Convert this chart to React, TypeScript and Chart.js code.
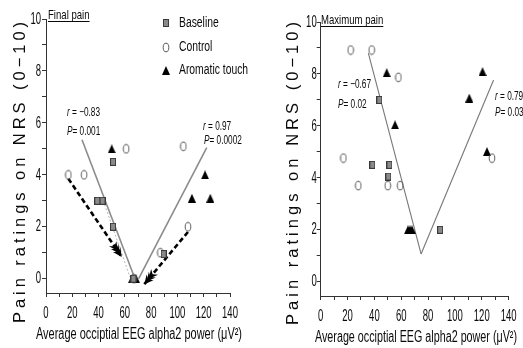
import React, { useEffect, useRef } from 'react';
import { Chart, registerables } from 'chart.js';

Chart.register(...registerables);

const SANS = "'Liberation Sans', Arial, 'DejaVu Sans', sans-serif";

// ---------- tick labels ----------
const xTickValues = [0, 20, 40, 60, 80, 100, 120, 140];
const yTickValues = [0, 2, 4, 6, 8, 10];
const seriesNames = ['Baseline', 'Control', 'Aromatic touch'];

// ---------- Final pain (left panel) ----------
const finalBaselineX = [51, 39, 43, 51, 89.5, 66.5];
const finalBaselineY = [4.5, 3, 3, 2, 0.95, 0];
const finalControlX = [61, 17, 29, 108, 104.5, 87, 67];
const finalControlY = [5, 4, 4, 2, 5.1, 1, 0];
const finalAromaticX = [50, 121, 111, 125, 65.5, 68.5];
const finalAromaticY = [5, 4, 3.1, 3.1, 0, 0];
const finalFitLeftX = [27.4, 67.7];
const finalFitLeftY = [5.35, 0];
const finalFitRightX = [70.5, 122.3];
const finalFitRightY = [0, 5.05];
const finalBaselineTrendX = [43.6, 64];
const finalBaselineTrendY = [3, 0.05];
const finalArrow1X = [17, 57.6];
const finalArrow1Y = [3.85, 0.84];
const finalArrow2X = [108, 74.8];
const finalArrow2Y = [1.8, -0.21];
const finalStats = ['r = −0.83', 'P= 0.001', 'r = 0.97', 'P= 0.0002'];

// ---------- Maximum pain (right panel) ----------
const maxBaselineX = [43.7, 38.5, 51.2, 50.4, 89];
const maxBaselineY = [7, 4.5, 4.5, 4.05, 2];
const maxControlX = [22.3, 38, 57.9, 16.9, 28, 50, 59.2, 127.6];
const maxControlY = [8.92, 8.92, 7.87, 4.76, 3.7, 3.7, 3.7, 4.76];
const maxAromaticX = [49.2, 55.4, 120.6, 110.7, 123.9, 65, 66.5, 68];
const maxAromaticY = [8.05, 6.04, 8.09, 7.07, 5.01, 2, 2, 2];
const maxFitLeftX = [35.5, 74.8];
const maxFitLeftY = [8.8, 1.07];
const maxFitRightX = [74.8, 128.8];
const maxFitRightY = [1.07, 7.77];
const maxStats = ['r = −0.67', 'P= 0.02', 'r = 0.79', 'P= 0.03'];

const yTitleText = 'Pain ratings on NRS (0−10)';
const xTitleText = 'Average occiptial EEG alpha2 power (μV²)';

// ---------- markers ----------
type Markers = { baseline: HTMLCanvasElement; control: HTMLCanvasElement; aromatic: HTMLCanvasElement };
let markerCache: Markers | null = null;
function getMarkers(): Markers {
  if (markerCache) return markerCache;
  const mk = (w: number, h: number, draw: (c: CanvasRenderingContext2D) => void) => {
    const c = document.createElement('canvas');
    c.width = w;
    c.height = h;
    draw(c.getContext('2d')!);
    return c;
  };
  const baseline = mk(6, 8, (c) => {
    c.fillStyle = '#8a8a8a';
    c.fillRect(0, 0, 6, 8);
    c.strokeStyle = '#3a3a3a';
    c.lineWidth = 1;
    c.strokeRect(0.5, 0.5, 5, 7);
  });
  const control = mk(8, 11, (c) => {
    c.strokeStyle = '#555';
    c.lineWidth = 1;
    c.beginPath();
    c.ellipse(4, 5.5, 2.8, 4.3, 0, 0, Math.PI * 2);
    c.stroke();
  });
  const aromatic = mk(8, 9, (c) => {
    c.fillStyle = '#000';
    c.beginPath();
    c.moveTo(4, 0);
    c.lineTo(8, 9);
    c.lineTo(0, 9);
    c.closePath();
    c.fill();
  });
  markerCache = { baseline, control, aromatic };
  return markerCache;
}

const zip = (xs: number[], ys: number[]) => xs.map((x, i) => ({ x, y: ys[i] }));

function pointsDs(label: string, xs: number[], ys: number[], img: HTMLCanvasElement) {
  return {
    label,
    data: zip(xs, ys),
    pointStyle: img,
    pointRadius: 4,
    pointHoverRadius: 4,
    showLine: false,
    order: 0,
  };
}

function lineDs(xs: number[], ys: number[], color: string, width: number, dash: number[] = []) {
  return {
    label: '',
    data: zip(xs, ys),
    showLine: true,
    borderColor: color,
    borderWidth: width,
    borderDash: dash,
    pointRadius: 0,
    pointHoverRadius: 0,
    fill: false,
    order: 1,
  };
}

// text drawn with a horizontal compression (the reference uses a condensed face)
function sText(
  ctx: CanvasRenderingContext2D,
  text: string,
  x: number,
  y: number,
  font: string,
  sx: number,
  align: CanvasTextAlign = 'left',
  baseline: CanvasTextBaseline = 'middle'
) {
  ctx.save();
  ctx.font = font;
  ctx.textAlign = align;
  ctx.textBaseline = baseline;
  ctx.translate(x, y);
  ctx.scale(sx, 1);
  ctx.fillText(text, 0, 0);
  const w = ctx.measureText(text).width * sx;
  ctx.restore();
  return w;
}

type TextSpec = {
  yTitle: { cx: number; bottom: number; span: number };
  xTitle: { cx: number; baseline: number; width: number };
  xTickBaseline: number;
  yTickGap: number;
  panelTitle: { text: string; x: number; y: number; underline: number };
  stats: string[];
  statPos: { x: number; y: number }[];
  legend?: { x: number; textX: number; ys: number[] };
  arrowSets?: number[];
};

const TICK_FONT = `17px ${SANS}`;
const TICK_SX = 0.56;
const STAT_SX = 0.66;

function drawStat(ctx: CanvasRenderingContext2D, s: string, x: number, y: number) {
  const letter = s.charAt(0);
  const rest = s.slice(1);
  const w = sText(ctx, letter, x, y, `italic 12.5px ${SANS}`, STAT_SX);
  sText(ctx, rest, x + w, y, `12.5px ${SANS}`, STAT_SX);
}

function drawArrowHead(ctx: CanvasRenderingContext2D, p0: any, p1: any) {
  const ang = Math.atan2(p1.y - p0.y, p1.x - p0.x);
  ctx.save();
  ctx.translate(p1.x, p1.y);
  ctx.rotate(ang);
  ctx.fillStyle = '#000';
  for (const off of [0, -3.5, -7]) {
    ctx.beginPath();
    ctx.moveTo(off, 0);
    ctx.lineTo(off - 9, -4.5);
    ctx.lineTo(off - 6, 0);
    ctx.lineTo(off - 9, 4.5);
    ctx.closePath();
    ctx.fill();
  }
  ctx.restore();
}

function makeTextPlugin(spec: TextSpec) {
  return {
    id: 'panelText',
    afterDatasetsDraw(chart: any) {
      const ctx: CanvasRenderingContext2D = chart.ctx;
      (spec.arrowSets || []).forEach((idx) => {
        const pts = chart.getDatasetMeta(idx).data;
        if (pts.length >= 2) drawArrowHead(ctx, pts[pts.length - 2], pts[pts.length - 1]);
      });
    },
    afterDraw(chart: any) {
      const ctx: CanvasRenderingContext2D = chart.ctx;
      const { x: xs, y: ys } = chart.scales;
      const area = chart.chartArea;
      ctx.save();
      ctx.fillStyle = '#0a0a0a';
      ctx.strokeStyle = '#0a0a0a';

      // tick labels placed by the chart's scales
      xTickValues.forEach((v) => {
        sText(ctx, String(v), xs.getPixelForValue(v), spec.xTickBaseline, TICK_FONT, TICK_SX, 'center', 'alphabetic');
      });
      yTickValues.forEach((v) => {
        sText(ctx, String(v), area.left - spec.yTickGap, ys.getPixelForValue(v), TICK_FONT, TICK_SX, 'right', 'middle');
      });

      // y title (widely spaced)
      {
        const { cx, bottom, span } = spec.yTitle;
        ctx.save();
        ctx.font = `16.5px ${SANS}`;
        ctx.translate(cx, bottom);
        ctx.rotate(-Math.PI / 2);
        ctx.textAlign = 'left';
        ctx.textBaseline = 'middle';
        const anyCtx = ctx as any;
        const n = Array.from(yTitleText).length;
        if ('letterSpacing' in anyCtx) {
          anyCtx.letterSpacing = '0px';
          const w = ctx.measureText(yTitleText).width;
          anyCtx.letterSpacing = `${(span - w) / (n - 1)}px`;
        }
        ctx.fillText(yTitleText, 0, 0);
        if ('letterSpacing' in anyCtx) anyCtx.letterSpacing = '0px';
        ctx.restore();
      }

      // x title, compressed to the reference width
      {
        const font = `16px ${SANS}`;
        ctx.font = font;
        const w = ctx.measureText(xTitleText).width;
        sText(ctx, xTitleText, spec.xTitle.cx, spec.xTitle.baseline, font, spec.xTitle.width / w, 'center', 'alphabetic');
      }

      // panel title with underline
      {
        const t = spec.panelTitle;
        const tw = sText(ctx, t.text, t.x, t.y, `13.5px ${SANS}`, 0.71, 'left', 'middle');
        ctx.lineWidth = 1;
        ctx.beginPath();
        ctx.moveTo(t.x, t.underline + 0.5);
        ctx.lineTo(t.x + tw, t.underline + 0.5);
        ctx.stroke();
      }

      // statistics
      spec.stats.forEach((s, i) => drawStat(ctx, s, spec.statPos[i].x, spec.statPos[i].y));

      // legend
      if (spec.legend) {
        const m = getMarkers();
        const imgs = [m.baseline, m.control, m.aromatic];
        seriesNames.forEach((name, i) => {
          const img = imgs[i];
          const y = spec.legend!.ys[i];
          ctx.drawImage(img, Math.round(spec.legend!.x - img.width / 2), Math.round(y - img.height / 2));
          sText(ctx, name, spec.legend!.textX, y, `14px ${SANS}`, 0.74, 'left', 'middle');
        });
      }
      ctx.restore();
    },
  };
}

function axes(yWidth: number, xHeight: number) {
  return {
    x: {
      type: 'linear',
      min: 0,
      max: 140,
      ticks: { display: false, stepSize: 10, autoSkip: false, includeBounds: false },
      grid: { display: true, drawOnChartArea: false, drawTicks: true, tickLength: 4, color: '#333', lineWidth: 1 },
      border: { display: true, color: '#333', width: 1 },
      title: { display: false },
      afterFit: (s: any) => {
        s.height = xHeight;
        s.paddingLeft = 0;
        s.paddingRight = 0;
      },
    },
    y: {
      type: 'linear',
      min: -0.55,
      max: 10,
      ticks: { display: false, stepSize: 1, autoSkip: false, includeBounds: false },
      grid: { display: true, drawOnChartArea: false, drawTicks: true, tickLength: 4, color: '#333', lineWidth: 1 },
      border: { display: true, color: '#333', width: 1 },
      title: { display: false },
      afterFit: (s: any) => {
        s.width = yWidth;
        s.paddingTop = 0;
        s.paddingBottom = 0;
      },
    },
  };
}

function leftConfig(): any {
  const m = getMarkers();
  return {
    type: 'scatter',
    data: {
      datasets: [
        pointsDs(seriesNames[0], finalBaselineX, finalBaselineY, m.baseline),
        pointsDs(seriesNames[1], finalControlX, finalControlY, m.control),
        pointsDs(seriesNames[2], finalAromaticX, finalAromaticY, m.aromatic),
        lineDs(finalFitLeftX, finalFitLeftY, '#8c8c8c', 1.6),
        lineDs(finalFitRightX, finalFitRightY, '#8c8c8c', 1.6),
        lineDs(finalBaselineTrendX, finalBaselineTrendY, '#b5b5b5', 1, [2, 2]),
        lineDs(finalArrow1X, finalArrow1Y, '#000', 2.6, [5, 3]),
        lineDs(finalArrow2X, finalArrow2Y, '#000', 2.6, [5, 3]),
      ],
    },
    options: {
      responsive: false,
      animation: false,
      events: [],
      layout: { padding: { top: 19, right: 30, left: 0, bottom: 0 } },
      plugins: { legend: { display: false }, tooltip: { enabled: false }, title: { display: false } },
      scales: axes(46, 55),
    },
    plugins: [
      makeTextPlugin({
        yTitle: { cx: 20, bottom: 323, span: 301 },
        xTitle: { cx: 139, baseline: 339, width: 206 },
        xTickBaseline: 318,
        yTickGap: 5,
        panelTitle: { text: 'Final pain', x: 48, y: 15, underline: 21 },
        stats: finalStats,
        statPos: [
          { x: 67, y: 113 },
          { x: 67, y: 132 },
          { x: 203, y: 127 },
          { x: 204, y: 141 },
        ],
        legend: { x: 166, textX: 179, ys: [23, 47, 70] },
        arrowSets: [6, 7],
      }),
    ],
  };
}

function rightConfig(): any {
  const m = getMarkers();
  return {
    type: 'scatter',
    data: {
      datasets: [
        pointsDs(seriesNames[0], maxBaselineX, maxBaselineY, m.baseline),
        pointsDs(seriesNames[1], maxControlX, maxControlY, m.control),
        pointsDs(seriesNames[2], maxAromaticX, maxAromaticY, m.aromatic),
        lineDs(maxFitLeftX, maxFitLeftY, '#777', 1.1),
        lineDs(maxFitRightX, maxFitRightY, '#777', 1.1),
      ],
    },
    options: {
      responsive: false,
      animation: false,
      events: [],
      layout: { padding: { top: 22, right: 14.4, left: 0, bottom: 0 } },
      plugins: { legend: { display: false }, tooltip: { enabled: false }, title: { display: false } },
      scales: axes(60.7, 52),
    },
    plugins: [
      makeTextPlugin({
        yTitle: { cx: 33, bottom: 325, span: 303 },
        xTitle: { cx: 156, baseline: 341.5, width: 202 },
        xTickBaseline: 320.5,
        yTickGap: 4,
        panelTitle: { text: 'Maximum pain', x: 61, y: 20, underline: 26 },
        stats: maxStats,
        statPos: [
          { x: 78, y: 85 },
          { x: 78, y: 105 },
          { x: 235, y: 97 },
          { x: 235, y: 113 },
        ],
      }),
    ],
  };
}

function Panel({ left, width, make }: { left: number; width: number; make: () => any }) {
  const ref = useRef<HTMLCanvasElement>(null);
  useEffect(() => {
    const chart = new Chart(ref.current!, make());
    return () => chart.destroy();
  }, []);
  return (
    <div style={{ position: 'absolute', left, top: 0, width, height: 348 }}>
      <canvas ref={ref} width={width} height={348} style={{ display: 'block' }} />
    </div>
  );
}

export default function App() {
  return (
    <div style={{ position: 'absolute', left: 0, top: 0, width: 523, height: 348, background: '#fff', overflow: 'hidden' }}>
      <Panel left={0} width={260} make={leftConfig} />
      <Panel left={260} width={263} make={rightConfig} />
    </div>
  );
}
